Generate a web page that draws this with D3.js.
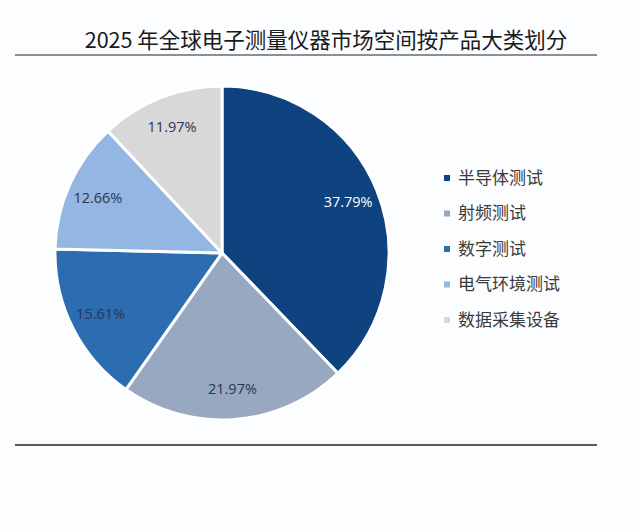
<!DOCTYPE html>
<html><head><meta charset="utf-8">
<script src="https://cdn.jsdelivr.net/npm/d3@7/dist/d3.min.js"></script>
<style>body{margin:0;background:#fcfdfe;}svg{display:block;}</style>
</head><body>
<svg id="c" width="640" height="532"></svg>
<script>
const title = "2025 年全球电子测量仪器市场空间按产品大类划分";
const categories = ["半导体测试","射频测试","数字测试","电气环境测试","数据采集设备"];
const values = [37.79, 21.97, 15.61, 12.66, 11.97];
const colors = ["#0f4380","#97a8c0","#2c6cb1","#93b6e3","#d8d8d8"];
const labelColors = ["#ffffff","#2a3550","#2a3550","#2a3550","#2a3550"];

const svg = d3.select("#c");
const font = "'Noto Sans CJK SC','Noto Sans',sans-serif";

svg.append("text").attr("x",326).attr("y",48).attr("text-anchor","middle")
  .attr("font-family",font).attr("font-size",21.5).attr("fill","#1a1a1a").text(title);
svg.append("line").attr("x1",15).attr("x2",597).attr("y1",55).attr("y2",55).attr("stroke","#222").attr("stroke-width",1.2);
svg.append("line").attr("x1",15).attr("x2",597).attr("y1",445).attr("y2",445).attr("stroke","#222").attr("stroke-width",1.5);

const cx = 222, cy = 253, r = 167;
const data = categories.map((c,i)=>({cat:c, v:values[i], i}));
const pie = d3.pie().value(d=>d.v).sort(null);
const arc = d3.arc().innerRadius(0).outerRadius(r);
const labelArc = d3.arc().innerRadius(136).outerRadius(136);
const color = d3.scaleOrdinal().domain(categories).range(colors);

const g = svg.append("g").attr("transform",`translate(${cx},${cy})`);
const arcs = pie(data);
g.selectAll("path").data(arcs).join("path")
  .attr("d",arc).attr("fill",d=>color(d.data.cat))
  .attr("stroke","#ffffff").attr("stroke-width",3).attr("stroke-linejoin","round");
g.selectAll("text").data(arcs).join("text")
  .attr("transform",d=>`translate(${labelArc.centroid(d)})`)
  .attr("text-anchor","middle").attr("dy","0.35em")
  .attr("font-family","'Open Sans','Noto Sans',sans-serif").attr("font-size",14.5)
  .attr("fill",d=>labelColors[d.data.i])
  .text(d=>d3.format(".2f")(d.data.v)+"%");

const y = d3.scalePoint().domain(categories).range([178,320]);
const lg = svg.append("g");
lg.selectAll("rect").data(categories).join("rect")
  .attr("x",444).attr("y",d=>y(d)-3).attr("width",6).attr("height",6)
  .attr("fill",d=>color(d));
lg.selectAll("text").data(categories).join("text")
  .attr("x",458).attr("y",d=>y(d)).attr("dy","0.35em")
  .attr("font-family",font).attr("font-size",17).attr("fill","#3a3a3a")
  .text(d=>d);
</script>
</body></html>
